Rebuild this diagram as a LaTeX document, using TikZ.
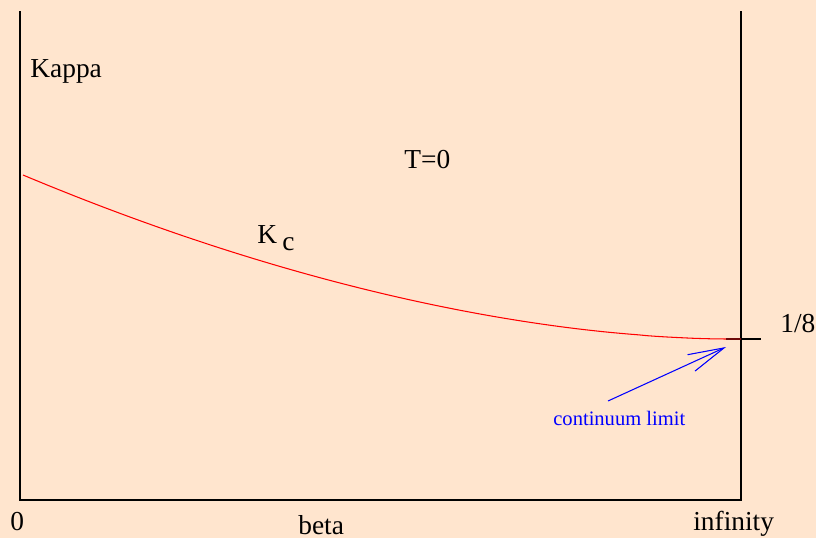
\documentclass[tikz,border=0pt]{standalone}
\usepackage{fontspec}
\setmainfont{Liberation Serif}
\usepackage{tikz}
\usetikzlibrary{arrows.meta, positioning}
\definecolor{peach}{RGB}{255,229,206}
\definecolor{tickred}{RGB}{110,10,10}

\begin{document}
\begin{tikzpicture}[
    x=0.02cm, y=-0.02cm,
    every node/.style={font=\rmfamily\fontsize{15.6}{18}\selectfont, inner sep=0pt, anchor=base west},
    axis/.style={line width=1.7pt},
    curve/.style={red, line width=0.6pt},
    pointer/.style={blue, line width=0.6pt, -{Straight Barb[length=7.2mm, width=3.6mm]}}
  ]
  \fill[peach] (0,0) rectangle (816,538);
  \useasboundingbox (0,0) rectangle (816,538);

  % frame and tick
  \draw[axis] (20,11) -- (20,500) -- (741,500) -- (741,11);
  \draw[axis] (726,339) -- (761,339);

  % critical line
  \draw[curve] plot[domain=23:727.9, samples=80] (\x, {339-164*((728-\x)/705)^1.8});
  \draw[line width=1.7pt, tickred] (726,339) -- (741,339);

  \node (kappa) at (30,77) {Kappa};
  \node (tzero) at (404,168) {T=0};
  \node (kc) at (257,243) {K};
  \node (kcsub) at (282,250) {c};
  \node (eighth) at (780,332) {1/8};
  \node (zero) at (10,530) {0};
  \node (beta) at (298,534) {beta};
  \node (infty) at (693,530) {infinity};
  \node[blue, font=\rmfamily\fontsize{11.7}{14}\selectfont] (climit) at (553,425) {continuum limit};

  \coordinate (tail) at (608,401);
  \coordinate (tip) at (726,347);
  \draw[pointer] (tail) -- (tip);

\end{tikzpicture}
\end{document}
